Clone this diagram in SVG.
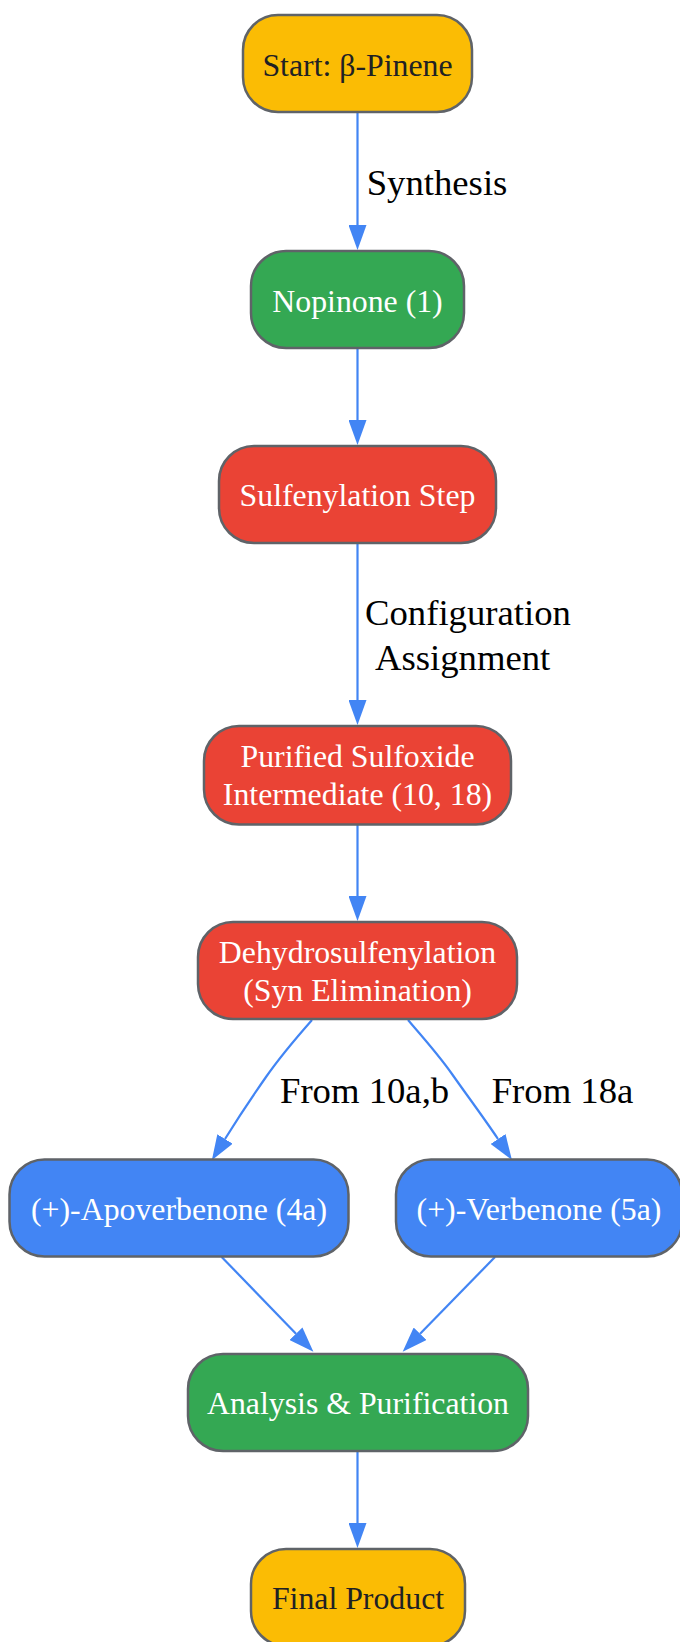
<svg xmlns="http://www.w3.org/2000/svg" width="680" height="1642" viewBox="0 0 680 1642">
<style>
.n rect{stroke:#5f6368;stroke-width:2.5}
.y rect{fill:#FBBC04}
.g rect{fill:#34A853}
.r rect{fill:#EA4335}
.b rect{fill:#4285F4}
.n text{font-family:"Liberation Serif","Times New Roman",serif;font-size:31.8px;text-anchor:middle;fill:#ffffff}
.y text{fill:#202124}
.e path{fill:none;stroke:#4285F4;stroke-width:2.2}
.lbl{font-family:"Liberation Serif","Times New Roman",serif;font-size:36.7px;fill:#000000}
</style>
<defs>
<marker id="ah" markerUnits="userSpaceOnUse" viewBox="0 0 25 18" refX="0" refY="9" markerWidth="25" markerHeight="18" orient="auto">
<path d="M0,0 L25,9 L0,18 z" fill="#4285F4"/>
</marker>
</defs>
<rect width="680" height="1642" fill="#ffffff"/>
<g id="edges" class="e">
<path d="M357.5,112 L357.5,225" marker-end="url(#ah)"/>
<path d="M357.5,348 L357.5,420" marker-end="url(#ah)"/>
<path d="M357.5,543 L357.5,700" marker-end="url(#ah)"/>
<path d="M357.5,825 L357.5,896" marker-end="url(#ah)"/>
<path d="M312,1020 C297,1037 280,1057 266,1077 C252,1097 238,1118 225,1139" marker-end="url(#ah)"/>
<path d="M408,1020 C420,1034 438,1054 452,1074 C466,1094 484,1118 498,1139" marker-end="url(#ah)"/>
<path d="M221.7,1257 L296,1333.7" marker-end="url(#ah)"/>
<path d="M495,1257 L420.1,1333.8" marker-end="url(#ah)"/>
<path d="M357.5,1451 L357.5,1523" marker-end="url(#ah)"/>
</g>
<g id="labels">
<text class="lbl" x="366.7" y="195">Synthesis</text>
<text class="lbl" x="365" y="625">Configuration</text>
<text class="lbl" x="375" y="670">Assignment</text>
<text class="lbl" x="280" y="1103">From 10a,b</text>
<text class="lbl" x="491.7" y="1103">From 18a</text>
</g>
<g id="start" class="n y"><rect x="243" y="15" width="229" height="97" rx="35"/><text x="357.5" y="75.5">Start: β-Pinene</text></g>
<g id="nopinone" class="n g"><rect x="251" y="251" width="213" height="97" rx="35"/><text x="357.5" y="311.5">Nopinone (1)</text></g>
<g id="sulfenylation" class="n r"><rect x="219" y="446" width="277" height="97" rx="35"/><text x="357.5" y="506">Sulfenylation Step</text></g>
<g id="sulfoxide" class="n r"><rect x="204" y="726" width="307" height="98.5" rx="35"/><text x="357.5" y="767">Purified Sulfoxide</text><text x="357.5" y="805">Intermediate (10, 18)</text></g>
<g id="dehydro" class="n r"><rect x="198" y="922" width="319" height="97" rx="35"/><text x="357.5" y="963">Dehydrosulfenylation</text><text x="357.5" y="1001">(Syn Elimination)</text></g>
<g id="apoverbenone" class="n b"><rect x="9.5" y="1159.5" width="339" height="97" rx="35"/><text x="179" y="1220">(+)-Apoverbenone (4a)</text></g>
<g id="verbenone" class="n b"><rect x="396" y="1159.5" width="286" height="97" rx="35"/><text x="539" y="1220">(+)-Verbenone (5a)</text></g>
<g id="analysis" class="n g"><rect x="188" y="1354" width="340" height="97" rx="35"/><text x="358" y="1413.5">Analysis &amp; Purification</text></g>
<g id="final" class="n y"><rect x="251" y="1549" width="214" height="97" rx="35"/><text x="358" y="1608.5">Final Product</text></g>
</svg>
